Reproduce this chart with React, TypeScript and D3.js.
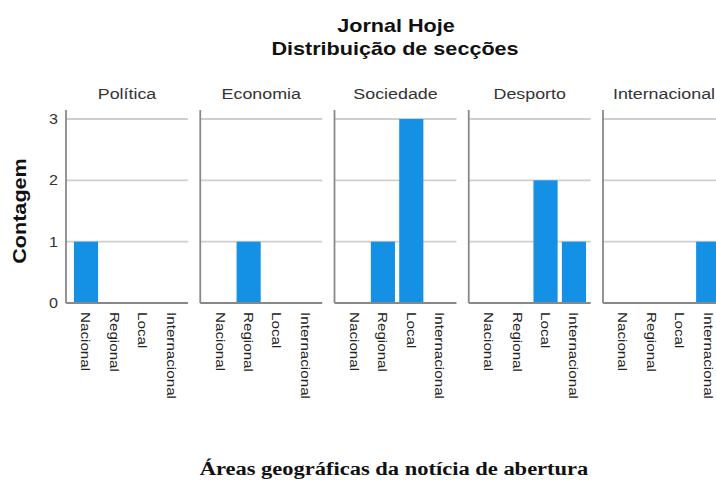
import React, { useRef, useEffect } from "react";
import * as d3 from "d3";

const sections = ["Política", "Economia", "Sociedade", "Desporto", "Internacional"];
const areas = ["Nacional", "Regional", "Local", "Internacional"];
const politica = [1, 0, 0, 0];
const economia = [0, 1, 0, 0];
const sociedade = [0, 1, 3, 0];
const desporto = [0, 0, 2, 1];
const internacional = [0, 0, 0, 1];
const yTicks = [0, 1, 2, 3];

const counts = [politica, economia, sociedade, desporto, internacional];

const SANS = "'Liberation Sans', Arial, sans-serif";
const SERIF = "'Liberation Serif', 'Times New Roman', serif";

const App = () => {
  const svgRef = useRef<SVGSVGElement>(null);

  useEffect(() => {
    const svg = d3.select(svgRef.current);
    svg.selectAll("*").remove();

    const width = 716;
    const height = 480;
    svg.attr("width", width).attr("height", height);

    const panel = d3.scaleBand<string>()
      .domain(sections)
      .range([66, 725])
      .paddingInner(0.0912)
      .paddingOuter(0);

    const y = d3.scaleLinear().domain([0, 3]).range([303, 119]);

    const x = d3.scaleBand<string>()
      .domain(areas)
      .range([5.8, 119.4])
      .paddingInner(0.15)
      .paddingOuter(0.075);

    // titles
    const title = svg.append("g")
      .attr("font-family", SANS)
      .attr("font-weight", "bold")
      .attr("font-size", 18)
      .attr("fill", "#111");
    title.append("text")
      .attr("transform", "translate(396,32) scale(1.2,1)")
      .attr("text-anchor", "middle")
      .text("Jornal Hoje");
    title.append("text")
      .attr("transform", "translate(395,55) scale(1.2,1)")
      .attr("text-anchor", "middle")
      .text("Distribuição de secções");

    // y ticks
    svg.append("g")
      .selectAll("text")
      .data(yTicks)
      .join("text")
      .attr("transform", d => `translate(58,${y(d)}) scale(1.15,1)`)
      .attr("text-anchor", "end")
      .attr("dominant-baseline", "central")
      .attr("font-family", SANS)
      .attr("font-size", 14)
      .attr("fill", "#333")
      .text(d => d);

    // y title
    svg.append("text")
      .attr("transform", "translate(26,211) rotate(-90) scale(1.2,1)")
      .attr("text-anchor", "middle")
      .attr("font-family", SANS)
      .attr("font-weight", "bold")
      .attr("font-size", 18)
      .attr("fill", "#111")
      .text("Contagem");

    sections.forEach((s, i) => {
      const left = panel(s)!;
      const w = panel.bandwidth();
      const g = svg.append("g").attr("transform", `translate(${left},0)`);

      g.append("text")
        .attr("transform", `translate(${w / 2},99) scale(1.19,1)`)
        .attr("text-anchor", "middle")
        .attr("font-family", SANS)
        .attr("font-size", 15)
        .attr("fill", "#333")
        .text(s);

      g.selectAll("line.grid")
        .data(yTicks.filter(t => t > 0))
        .join("line")
        .attr("class", "grid")
        .attr("x1", 0)
        .attr("x2", w)
        .attr("y1", d => y(d))
        .attr("y2", d => y(d))
        .attr("stroke", "#cfcfcf")
        .attr("stroke-width", 1.8);

      const vals = counts[i];
      g.selectAll("rect")
        .data(areas.map((a, j) => ({ a, v: vals[j] })).filter(d => d.v > 0))
        .join("rect")
        .attr("x", d => x(d.a)!)
        .attr("y", d => y(d.v))
        .attr("width", x.bandwidth())
        .attr("height", d => y(0) - y(d.v))
        .attr("fill", "#1490e4");

      g.append("line")
        .attr("x1", 0).attr("x2", 0)
        .attr("y1", 110).attr("y2", y(0))
        .attr("stroke", "#888")
        .attr("stroke-width", 1.8);
      g.append("line")
        .attr("x1", 0).attr("x2", w)
        .attr("y1", y(0)).attr("y2", y(0))
        .attr("stroke", "#888")
        .attr("stroke-width", 1.8);

      g.selectAll("text.lab")
        .data(areas)
        .join("text")
        .attr("class", "lab")
        .attr("transform", d => `translate(${x(d)! + x.bandwidth() / 2},312) rotate(90) scale(1.17,1)`)
        .attr("dominant-baseline", "central")
        .attr("font-family", SANS)
        .attr("font-size", 13)
        .attr("fill", "#222")
        .text(d => d);
    });

    svg.append("text")
      .attr("transform", "translate(394,475) scale(1.25,1)")
      .attr("text-anchor", "middle")
      .attr("font-family", SERIF)
      .attr("font-weight", "bold")
      .attr("font-size", 18)
      .attr("fill", "#111")
      .text("Áreas geográficas da notícia de abertura");
  }, []);

  return (
    <svg
      ref={svgRef}
      style={{ position: "absolute", left: 0, top: 0, background: "#fff", overflow: "hidden" }}
    ></svg>
  );
};

export default App;
